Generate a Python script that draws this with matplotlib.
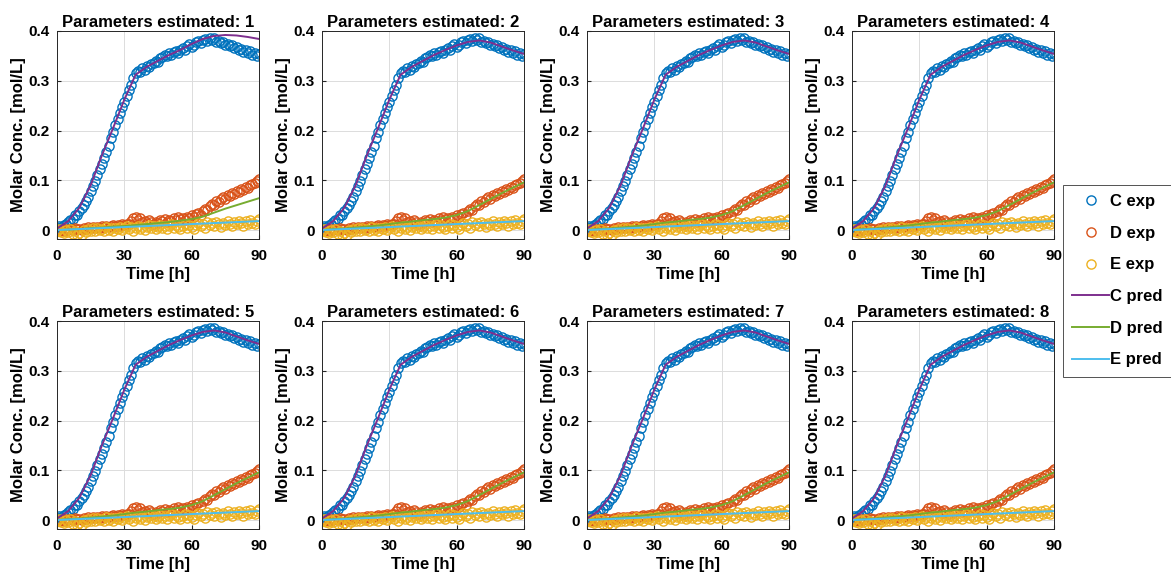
import numpy as np
import matplotlib
matplotlib.use("Agg")
import matplotlib.pyplot as plt
from matplotlib.lines import Line2D

plt.rcParams['font.family'] = ['Liberation Sans', 'DejaVu Sans']
plt.rcParams['font.weight'] = 'bold'

# experimental data, one sample per hour (0..90 h)
t_exp = np.arange(0, 91)
C_exp = [0.005, 0.008, 0.006, 0.010, 0.012, 0.016, 0.020, 0.022, 0.030, 0.031,
         0.038, 0.045, 0.050, 0.058, 0.066, 0.078, 0.088, 0.098, 0.110, 0.122,
         0.132, 0.145, 0.156, 0.168, 0.185, 0.198, 0.212, 0.224, 0.236, 0.248,
         0.258, 0.270, 0.282, 0.292, 0.305, 0.315, 0.320, 0.318, 0.326, 0.322,
         0.330, 0.328, 0.334, 0.336, 0.340, 0.338, 0.345, 0.348, 0.352, 0.350,
         0.355, 0.352, 0.358, 0.360, 0.356, 0.362, 0.366, 0.362, 0.370, 0.374,
         0.368, 0.372, 0.378, 0.380, 0.376, 0.382, 0.384, 0.380, 0.385, 0.382,
         0.386, 0.378, 0.380, 0.376, 0.378, 0.372, 0.374, 0.370, 0.372, 0.366,
         0.368, 0.362, 0.364, 0.358, 0.362, 0.356, 0.360, 0.352, 0.355, 0.350,
         0.353]
D_exp = [0.000, -0.002, 0.001, -0.001, 0.002, 0.000, 0.003, 0.001, 0.004, 0.002,
         0.003, 0.001, 0.005, 0.003, 0.006, 0.004, 0.007, 0.005, 0.006, 0.004,
         0.008, 0.006, 0.009, 0.007, 0.008, 0.010, 0.008, 0.011, 0.009, 0.012,
         0.010, 0.013, 0.012, 0.018, 0.024, 0.026, 0.020, 0.024, 0.016, 0.018,
         0.014, 0.020, 0.016, 0.013, 0.017, 0.015, 0.020, 0.018, 0.022, 0.017,
         0.021, 0.019, 0.024, 0.020, 0.026, 0.022, 0.025, 0.021, 0.027, 0.024,
         0.030, 0.026, 0.032, 0.035, 0.031, 0.038, 0.042, 0.040, 0.048, 0.052,
         0.050, 0.058, 0.056, 0.062, 0.066, 0.063, 0.070, 0.068, 0.074, 0.072,
         0.078, 0.076, 0.082, 0.080, 0.086, 0.084, 0.090, 0.092, 0.095, 0.098,
         0.102]
E_exp = [-0.002, 0.002, -0.004, -0.006, 0.000, -0.003, 0.003, -0.008, -0.002, -0.010,
         -0.005, -0.009, 0.001, -0.004, 0.003, -0.002, 0.004, -0.001, 0.005, 0.000,
         0.003, -0.002, 0.006, 0.001, 0.004, -0.001, 0.005, 0.002, 0.007, 0.000,
         0.004, 0.008, 0.002, 0.006, -0.001, 0.005, 0.009, 0.003, 0.007, 0.001,
         0.006, 0.010, 0.004, 0.008, 0.002, 0.007, 0.011, 0.005, 0.009, 0.003,
         0.008, 0.012, 0.004, 0.010, 0.006, 0.002, 0.009, 0.013, 0.005, 0.011,
         0.007, 0.003, 0.010, 0.014, 0.008, 0.012, 0.005, 0.016, 0.010, 0.014,
         0.008, 0.017, 0.012, 0.006, 0.015, 0.010, 0.018, 0.013, 0.008, 0.016,
         0.012, 0.019, 0.014, 0.009, 0.018, 0.013, 0.020, 0.015, 0.012, 0.019,
         0.023]

# model predictions, every 5 h
t_pred = np.arange(0, 91, 5)
C_pred = [0.003, 0.018, 0.045, 0.090, 0.150, 0.205, 0.262, 0.312, 0.328, 0.340,
          0.352, 0.362, 0.371, 0.378, 0.381, 0.377, 0.369, 0.361, 0.354]
D_pred = [0.000, 0.002, 0.003, 0.005, 0.007, 0.009, 0.012, 0.015, 0.017, 0.020,
          0.022, 0.025, 0.030, 0.038, 0.050, 0.062, 0.074, 0.085, 0.096]
E_pred = [0.000, 0.001, 0.002, 0.003, 0.004, 0.005, 0.006, 0.007, 0.008, 0.009,
          0.010, 0.011, 0.012, 0.013, 0.014, 0.015, 0.016, 0.017, 0.018]
# one-parameter fit (first panel)
C_pred_1 = [0.003, 0.018, 0.045, 0.090, 0.150, 0.205, 0.262, 0.312, 0.328, 0.340,
            0.352, 0.362, 0.374, 0.384, 0.390, 0.392, 0.391, 0.388, 0.384]
D_pred_1 = [0.000, 0.001, 0.002, 0.004, 0.005, 0.007, 0.008, 0.010, 0.012, 0.014,
            0.016, 0.019, 0.022, 0.027, 0.035, 0.043, 0.050, 0.057, 0.064]
E_pred_1 = E_pred

n_params = [1, 2, 3, 4, 5, 6, 7, 8]

c_exp = ['#0072BD', '#D95319', '#EDB120']
c_pred = ['#7E2F8E', '#77AC30', '#4DBEEE']

W, H = 1171, 584
fig = plt.figure(figsize=(W / 100, H / 100), dpi=100)

lefts = [57, 322, 587, 852]
tops = [31, 321]
aw, ah = 202, 208

for k, n in enumerate(n_params):
    r, c = divmod(k, 4)
    ax = fig.add_axes([lefts[c] / W, 1 - (tops[r] + ah) / H, aw / W, ah / H])
    for y, col in zip([C_exp, D_exp, E_exp], c_exp):
        ax.plot(t_exp, y, 'o', mfc='none', mec=col, ms=6.6, mew=1.0)
    if n == 1:
        preds = [C_pred_1, D_pred_1, E_pred_1]
    else:
        preds = [C_pred, D_pred, E_pred]
    for y, col in zip(preds, c_pred):
        ax.plot(t_pred, y, '-', color=col, lw=1.4)
    ax.set_xlim(0, 90)
    ax.set_ylim(-0.018, 0.4)
    ax.set_xticks([0, 30, 60, 90])
    ax.set_yticks([0, 0.1, 0.2, 0.3, 0.4])
    ax.set_yticklabels(['0', '0.1', '0.2', '0.3', '0.4'])
    ax.grid(True, color='#dcdcdc', lw=0.7)
    ax.set_axisbelow(True)
    ax.tick_params(direction='in', length=3, labelsize=11, colors='#262626',
                   labelcolor='black', pad=5)
    ax.tick_params(axis='x', pad=7)
    for s in ax.spines.values():
        s.set_color('#262626')
        s.set_linewidth(0.7)
    ax.set_title(f'Parameters estimated: {n}', fontsize=12, fontweight='bold', pad=3)
    ax.set_xlabel('Time [h]', fontsize=12, fontweight='bold', labelpad=3)
    ax.set_ylabel('Molar Conc. [mol/L]', fontsize=12, fontweight='bold', labelpad=2)

handles = [Line2D([], [], ls='none', marker='o', mfc='none', mec=col, ms=6.6, mew=1.0)
           for col in c_exp]
handles += [Line2D([], [], color=col, lw=1.4) for col in c_pred]
labels = ['C exp', 'D exp', 'E exp', 'C pred', 'D pred', 'E pred']
leg = fig.legend(handles, labels, loc='upper left',
                 bbox_to_anchor=(1063 / W, 1 - 185 / H),
                 fontsize=12, frameon=True, fancybox=False, handlelength=2.2,
                 handletextpad=0.1, labelspacing=1.0, borderpad=0.55,
                 borderaxespad=0)
leg.get_frame().set_edgecolor('#262626')
leg.get_frame().set_linewidth(0.7)

fig.savefig('out.png', dpi=100)
